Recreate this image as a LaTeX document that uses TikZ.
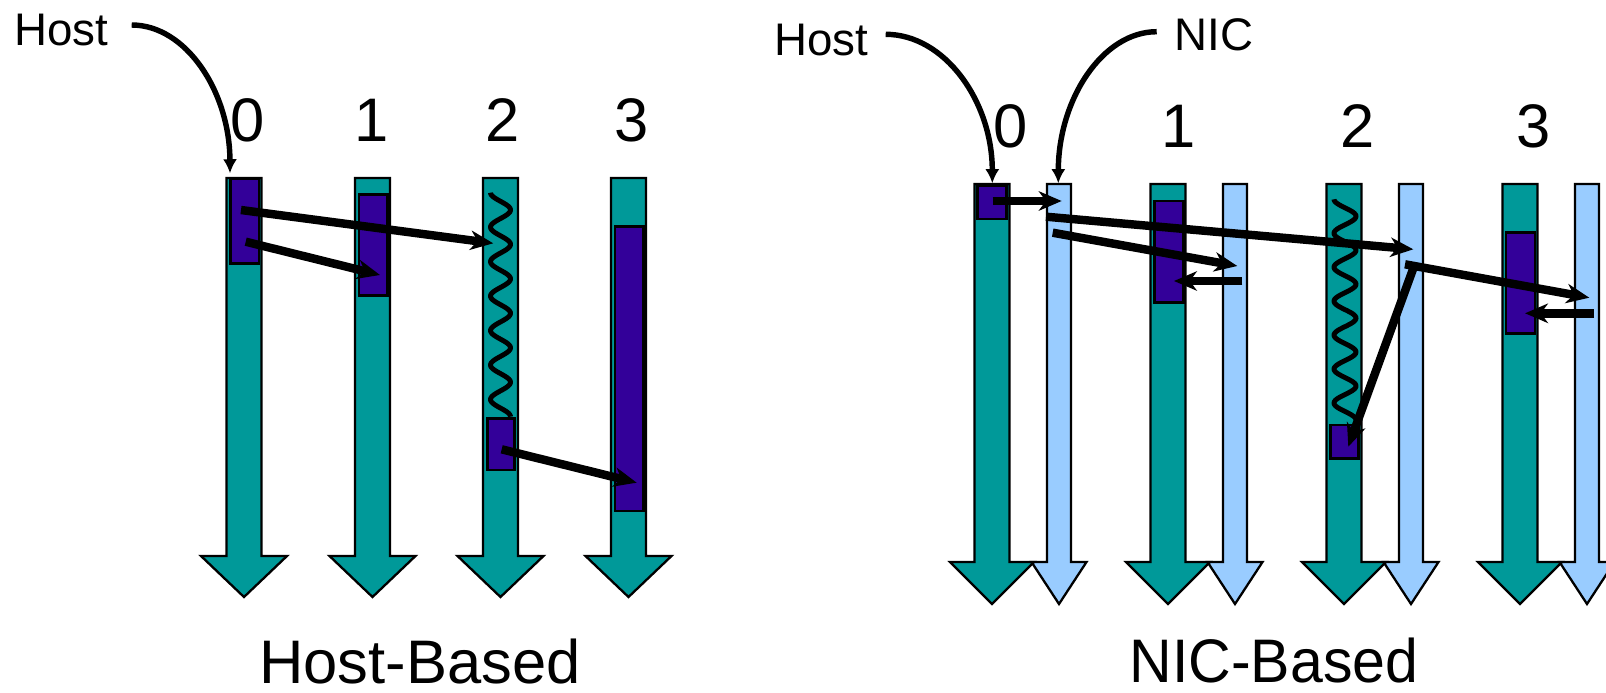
\documentclass[tikz,border=0pt]{standalone}
\usepackage{fontspec}
\setmainfont{Liberation Sans}
\usetikzlibrary{arrows.meta,fit}

\definecolor{hostteal}{RGB}{0,153,153}
\definecolor{msgpurple}{RGB}{51,0,153}
\definecolor{nicblue}{RGB}{153,204,255}

% timeline bar ending in a downward arrow head
% #1 centre x, #2 half shaft width, #3 half head width,
% #4 top y, #5 head base y, #6 tip y, #7 fill colour
\newcommand\timeline[7]{%
  \path[lane, fill=#7] (#1-#2,#4) -- (#1+#2,#4) -- (#1+#2,#5) -- (#1+#3,#5)
    -- (#1,#6) -- (#1-#3,#5) -- (#1-#2,#5) -- cycle;}

\tikzset{
  lane/.style={draw=black, line width=1.3pt, line join=miter},
  block/.style={draw=black, line width=1.5pt, fill=msgpurple, inner sep=0pt},
  msg/.style={line width=4.8pt, -{Stealth[length=13pt,width=11pt,inset=4pt]}},
  pointer/.style={line width=3.1pt, -{Latex[length=8pt,width=8pt]}},
  wave/.style={line width=2.8pt},
  tagtext/.style={inner sep=0pt, anchor=base, font=\fontsize{26}{30}\selectfont},
  ranknum/.style={inner sep=0pt, anchor=base, font=\fontsize{35}{40}\selectfont},
  captiontext/.style={inner sep=0pt, anchor=base, font=\fontsize{35}{40}\selectfont},
}

\begin{document}
\begin{tikzpicture}[x=0.02cm, y=-0.02cm]
\useasboundingbox (0,0) rectangle (1606,693);
\clip (0,0) rectangle (1606,693);

% ---------------- Host-based barrier ----------------
\timeline{244}{17.5}{43}{178}{556}{597}{hostteal}
\timeline{372.5}{17.5}{43}{178}{556}{597}{hostteal}
\timeline{500.5}{17.5}{43}{178}{556}{597}{hostteal}
\timeline{628.5}{17.5}{43}{178}{556}{597}{hostteal}

\node[block, fit={(230.7,179) (259,263.3)}] (hb0) {};
\node[block, fit={(359,194.3) (387.3,295.7)}] (hb1) {};
\node[block, fit={(487.3,418.3) (514.3,470)}] (hb2) {};
\node[block, fit={(615,226.7) (643.3,511)}] (hb3) {};

% waiting on rank 2
\draw[wave] plot[domain=192.7:416.7, samples=220, smooth]
  ({500.5-10*cos(10.447*(\x-192.7))}, \x);

\coordinate (h0s1) at (241,210);
\coordinate (h2in) at (493.3,243.3);
\coordinate (h0s2) at (245.7,241.7);
\coordinate (h1in) at (380,275);
\coordinate (h2s) at (501.7,449.3);
\coordinate (h3in) at (636.7,482.7);
\draw[msg] (h0s1) -- (h2in);
\draw[msg] (h0s2) -- (h1in);
\draw[msg] (h2s) -- (h3in);

\foreach \n/\cx in {0/247.5,1/372,2/503,3/631.5}
  \node[ranknum] (hr\n) at (\cx,141) {\n};

\node[tagtext] (hosttagA) at (61,45) {Host};
\coordinate (hostptA) at (230,173.3);
\draw[pointer] (131.7,25) coordinate (hostfromA)
  .. controls (185.8,25) and (229.7,91.3) .. (hostptA);

\node[captiontext] (hostcap) at (420,683) {Host-Based};

% ---------------- NIC-based barrier ----------------
\foreach \i/\hx/\nx in {0/992/1059,1/1168/1235,2/1344/1411,3/1520/1587}{
  \timeline{\nx}{12}{27.5}{184}{562}{604}{nicblue}
  \timeline{\hx}{17.5}{42}{184}{562}{604}{hostteal}
}

\node[block, fit={(977.7,185.7) (1006.7,219)}] (nb0) {};
\node[block, fit={(1154.3,201) (1183.3,302.3)}] (nb1) {};
\node[block, fit={(1330.7,425) (1358.3,458.3)}] (nb2) {};
\node[block, fit={(1506,232.7) (1535,333.3)}] (nb3) {};

% waiting on rank 2
\draw[wave] plot[domain=199.3:420, samples=220, smooth]
  ({1345-11*cos(10.604*(\x-199.3))}, \x);

\coordinate (n0host) at (992.7,201);
\coordinate (n0nic) at (1061.7,201);
\coordinate (n0s1) at (1046,216.7);
\coordinate (n2nic) at (1413.3,249.3);
\coordinate (n0s2) at (1052.7,232.7);
\coordinate (n1nic) at (1237.3,266);
\coordinate (n1s) at (1242.3,281);
\coordinate (n1host) at (1174,281);
\coordinate (n2s1) at (1405,264.3);
\coordinate (n3nic) at (1589.3,297.7);
\coordinate (n3s) at (1594,313.3);
\coordinate (n3host) at (1525,313.3);
\coordinate (n2s2) at (1413.3,268.3);
\coordinate (n2host) at (1348.3,446.7);
\draw[msg] (n0host) -- (n0nic);
\draw[msg] (n0s1) -- (n2nic);
\draw[msg] (n0s2) -- (n1nic);
\draw[msg] (n1s) -- (n1host);
\draw[msg] (n2s1) -- (n3nic);
\draw[msg] (n3s) -- (n3host);
\draw[msg] (n2s2) -- (n2host);

\foreach \n/\cx in {0/1010.6,1/1178.4,2/1357.6,3/1533.6}
  \node[ranknum] (nr\n) at (\cx,147) {\n};

\node[tagtext] (hosttagB) at (821,55) {Host};
\coordinate (hostptB) at (992.3,183.3);
\draw[pointer] (885.7,34.3) coordinate (hostfromB)
  .. controls (944.5,34.3) and (992.3,101.1) .. (hostptB);

\node[tagtext] (nictag) at (1214,50.7) {NIC};
\coordinate (nicpt) at (1058.3,183.3);
\draw[pointer] (1156.7,31.7) coordinate (nicfrom)
  .. controls (1102.4,31.7) and (1058.3,99.6) .. (nicpt);

\node[captiontext, xscale=0.96] (niccap) at (1274,682) {NIC-Based};
\end{tikzpicture}
\end{document}
